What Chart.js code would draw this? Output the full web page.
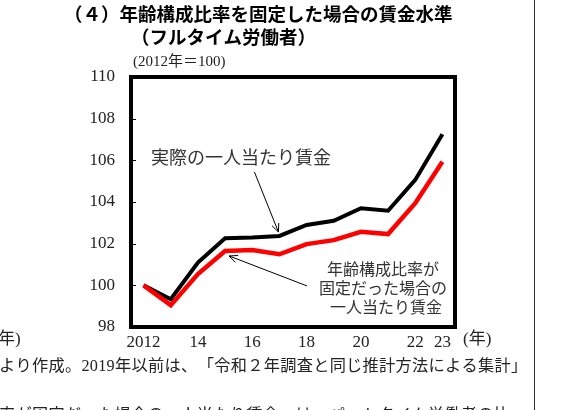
<!DOCTYPE html>
<html>
<head>
<meta charset="utf-8">
<script src="https://cdn.jsdelivr.net/npm/chart.js@4.4.1/dist/chart.umd.min.js"></script>
<style>
  html, body { margin: 0; padding: 0; background: #fff; }
  #wrap { width: 564px; height: 410px; }
</style>
</head>
<body>
<div id="wrap"><canvas id="wageChart" width="564" height="410"></canvas></div>
<script>
// years and tick labels
const years = ['2012', '2013', '2014', '2015', '2016', '2017', '2018', '2019', '2020', '2021', '2022', '2023'];
const xTickLabels = ['2012', '', '14', '', '16', '', '18', '', '20', '', '22', '23'];
// index, 2012 = 100
const actualWage = [100.0, 99.33, 101.09, 102.26, 102.3, 102.37, 102.9, 103.1, 103.7, 103.58, 105.06, 107.25];
const fixedAgeWage = [100.0, 99.05, 100.54, 101.65, 101.7, 101.49, 101.98, 102.17, 102.57, 102.46, 103.94, 105.93];
const yMin = 98, yMax = 110, yStep = 2;

const serifJP = "'Liberation Serif', 'Noto Sans CJK JP', serif";
const gothicJP = "'Noto Sans CJK JP', sans-serif";

function arrow(ctx, x1, y1, x2, y2) {
  const ang = Math.atan2(y2 - y1, x2 - x1);
  const len = 9, spread = 0.42;
  ctx.beginPath();
  ctx.moveTo(x1, y1);
  ctx.lineTo(x2, y2);
  ctx.moveTo(x2 - len * Math.cos(ang - spread), y2 - len * Math.sin(ang - spread));
  ctx.lineTo(x2, y2);
  ctx.lineTo(x2 - len * Math.cos(ang + spread), y2 - len * Math.sin(ang + spread));
  ctx.stroke();
}

// texts, frame and arrows around the plot
const decorPlugin = {
  id: 'decor',
  afterDraw(chart) {
    const ctx = chart.ctx;
    const area = chart.chartArea;
    const xs = chart.scales.x, ys = chart.scales.y;
    ctx.save();

    // frame
    ctx.strokeStyle = '#000';
    ctx.lineWidth = 4;
    ctx.strokeRect(area.left + 1, area.top, area.right - area.left - 2, area.bottom - area.top);

    // inner ticks on the y axis
    ctx.lineWidth = 1;
    ys.ticks.forEach(t => {
      if (t.value === yMin || t.value === yMax) return;
      const y = Math.round(ys.getPixelForValue(t.value)) + 0.5;
      ctx.beginPath();
      ctx.moveTo(area.left + 3, y);
      ctx.lineTo(area.left + 6, y);
      ctx.stroke();
    });

    // titles
    ctx.fillStyle = '#000';
    ctx.textBaseline = 'middle';
    ctx.textAlign = 'left';
    ctx.font = 'bold 18.5px ' + gothicJP;
    ctx.fillText('（４）年齢構成比率を固定した場合の賃金水準', 64, 14);
    ctx.fillText('（フルタイム労働者）', 131, 37);

    ctx.fillStyle = '#222';
    ctx.font = '15px ' + serifJP;
    ctx.fillText('(2012年＝100)', 133, 62);

    // axis unit labels
    ctx.font = '17px ' + serifJP;
    ctx.fillText('(年)', 463, 340);
    ctx.fillText('年)', -2, 340);

    // annotations
    ctx.fillStyle = '#333';
    ctx.font = '18px ' + serifJP;
    ctx.fillText('実際の一人当たり賃金', 151, 159);

    ctx.textAlign = 'center';
    ctx.font = '16px ' + serifJP;
    ctx.fillText('年齢構成比率が', 383, 271);
    ctx.fillText('固定だった場合の', 383, 290);
    ctx.fillText('一人当たり賃金', 386, 309);

    ctx.strokeStyle = '#000';
    ctx.lineWidth = 1;
    const t1x = xs.getPixelForValue(5) - 1, t1y = ys.getPixelForValue(actualWage[5]) - 4;
    arrow(ctx, t1x - 24, t1y - 60, t1x, t1y);
    const t2x = xs.getPixelForValue(3) + 4, t2y = ys.getPixelForValue(fixedAgeWage[3]) + 5;
    arrow(ctx, t2x + 78, t2y + 30, t2x, t2y);

    // notes below the chart
    ctx.textAlign = 'left';
    ctx.fillStyle = '#222';
    ctx.font = '16.2px ' + serifJP;
    ctx.letterSpacing = '0.3px';
    ctx.fillText('より作成。2019年以前は、　「令和２年調査と同じ推計方法による集計」', -1, 367);
    ctx.fillText('率が固定だった場合の一人当たり賃金」は、パートタイム労働者の比', -1, 416);
    ctx.letterSpacing = '0px';

    // page edge line
    ctx.strokeStyle = '#333';
    ctx.beginPath();
    ctx.moveTo(534.5, 0);
    ctx.lineTo(534.5, 410);
    ctx.stroke();

    ctx.restore();
  }
};

new Chart(document.getElementById('wageChart'), {
  type: 'line',
  data: {
    labels: years,
    datasets: [
      {
        label: '年齢構成比率が固定だった場合の一人当たり賃金',
        data: fixedAgeWage,
        borderColor: '#ff0000',
        borderWidth: 4.5,
        pointRadius: 0,
        tension: 0,
        order: 0
      },
      {
        label: '実際の一人当たり賃金',
        data: actualWage,
        borderColor: '#000000',
        borderWidth: 4,
        pointRadius: 0,
        tension: 0,
        order: 1
      }
    ]
  },
  options: {
    responsive: false,
    animation: false,
    layout: { padding: { top: 77, right: 108, left: 0, bottom: 0 } },
    plugins: {
      legend: { display: false },
      tooltip: { enabled: false }
    },
    scales: {
      x: {
        type: 'category',
        offset: true,
        grid: { display: false, drawTicks: false },
        border: { display: false },
        afterFit(scale) { scale.height = 83; },
        ticks: {
          autoSkip: false,
          maxRotation: 0,
          padding: 5,
          color: '#222',
          font: { family: serifJP, size: 17 },
          callback: (v, i) => xTickLabels[i]
        }
      },
      y: {
        min: yMin,
        max: yMax,
        grid: { display: false, drawTicks: false },
        border: { display: false },
        afterFit(scale) { scale.width = 130; },
        ticks: {
          stepSize: yStep,
          padding: 15,
          color: '#222',
          font: { family: serifJP, size: 17 }
        }
      }
    }
  },
  plugins: [decorPlugin]
});
</script>
</body>
</html>
